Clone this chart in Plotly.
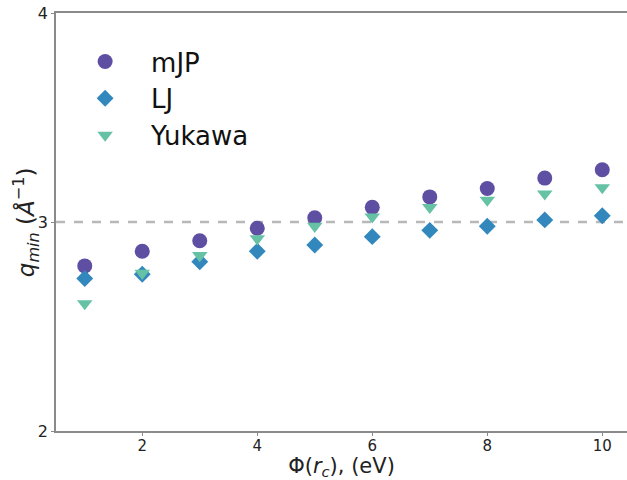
import plotly.graph_objects as go

phi = [1, 2, 3, 4, 5, 6, 7, 8, 9, 10]
mjp = [2.79, 2.86, 2.91, 2.97, 3.02, 3.07, 3.12, 3.16, 3.21, 3.25]
lj = [2.73, 2.75, 2.81, 2.86, 2.89, 2.93, 2.96, 2.98, 3.01, 3.03]
yukawa = [2.61, 2.755, 2.84, 2.92, 2.98, 3.025, 3.07, 3.105, 3.135, 3.165]
ref_q = 3.0

names = ["mJP", "LJ", "Yukawa"]
colors = ["#5e4fa2", "#3288bd", "#66c2a5"]
symbols = ["circle", "diamond", "triangle-down"]
sizes = [15, 13, 13.5]

fig = go.Figure()
for i, (name, vals) in enumerate(zip(names, [mjp, lj, yukawa])):
    fig.add_trace(go.Scatter(
        x=phi, y=vals, mode="markers", name="\u2003" + name,
        legendgroup=name,
        marker=dict(symbol=symbols[i], color=colors[i], size=sizes[i], line=dict(width=0)),
    ))

fig.add_shape(type="line", xref="paper", yref="y", x0=0, x1=1, y0=ref_q, y1=ref_q,
              line=dict(color="#b8b8b8", width=2.5, dash="dash"), layer="below")

font = "DejaVu Sans, sans-serif"
fig.add_annotation(
    text="<i>q</i><sub><i>min</i></sub> (<i>Å</i><sup>−1</sup>)",
    xref="paper", yref="paper", x=-0.054, y=0.5, xanchor="center", yanchor="middle",
    textangle=-90, showarrow=False, font=dict(size=23, family=font, color="#222"),
)

fig.update_layout(
    width=627, height=480,
    margin=dict(l=56, r=0, t=13, b=49),
    paper_bgcolor="white", plot_bgcolor="white",
    font=dict(family=font, color="#222"),
    showlegend=True,
    legend=dict(x=0.051, y=0.94, xanchor="left", yanchor="top",
                font=dict(size=26, family=font, color="#111"),
                bgcolor="rgba(0,0,0,0)", tracegroupgap=0, itemsizing="trace"),
    xaxis=dict(range=[0.5, 10.43], tickvals=[2, 4, 6, 8, 10],
               showline=True, linecolor="#8a8a8a", linewidth=1.5, mirror=True,
               ticks="outside", ticklen=3, tickcolor="#8a8a8a",
               showgrid=False, zeroline=False, ticklabelstandoff=-3,
               tickfont=dict(size=15, family=font, color="#222"),
               title=dict(text="Φ(<i>r</i><sub><i>c</i></sub>), (eV)",
                          font=dict(size=21, family=font, color="#222"), standoff=3)),
    yaxis=dict(range=[2, 4], tickvals=[2, 3, 4],
               showline=True, linecolor="#8a8a8a", linewidth=1.5,
               ticks="outside", ticklen=3, tickcolor="#8a8a8a",
               showgrid=False, zeroline=False,
               tickfont=dict(size=16, family=font, color="#222")),
)

fig.write_html("out.html")
